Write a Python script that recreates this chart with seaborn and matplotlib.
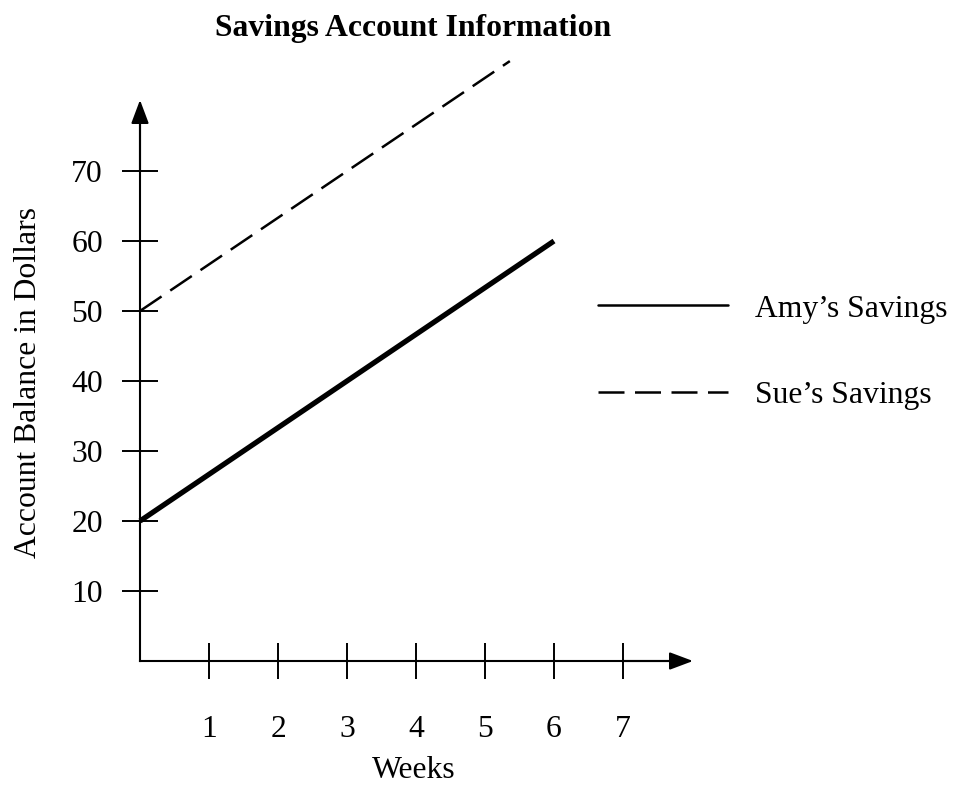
import matplotlib
matplotlib.use("Agg")
import matplotlib.pyplot as plt
import seaborn as sns
import pandas as pd
from matplotlib.lines import Line2D

# ---------------- data ----------------
title = "Savings Account Information"
x_label = "Weeks"
y_label = "Account Balance in Dollars"
series_names = ["Amy\u2019s Savings", "Sue\u2019s Savings"]
amy_weeks = [0, 6]
amy_balance = [20, 60]
sue_weeks = [0, 5.36]
sue_balance = [50, 85.7]
x_ticks = [1, 2, 3, 4, 5, 6, 7]
y_ticks = [10, 20, 30, 40, 50, 60, 70]

# ---------------- style ----------------
sns.set_theme(style="ticks")
plt.rcParams["font.family"] = ["Liberation Serif", "DejaVu Serif"]
plt.rcParams["text.color"] = "black"
plt.rcParams["axes.labelcolor"] = "black"
plt.rcParams["xtick.color"] = "black"
plt.rcParams["ytick.color"] = "black"
FS = 22.8

W, H = 959, 798
fig = plt.figure(figsize=(W / 100, H / 100), dpi=100)
ax = fig.add_axes([0, 0, 1, 1])
ax.set_facecolor("white")

ox, oy = 140, 137          # axis origin in pixels (left, bottom)
pxw, pxd = 69, 7           # pixels per week, pixels per dollar
ax.set_xlim(-ox / pxw, (W - ox) / pxw)
ax.set_ylim(-oy / pxd, (H - oy) / pxd)

df_amy = pd.DataFrame({"week": amy_weeks, "balance": amy_balance})
df_sue = pd.DataFrame({"week": sue_weeks, "balance": sue_balance})

sns.lineplot(data=df_amy, x="week", y="balance", ax=ax, color="black",
             lw=3.8, solid_capstyle="butt", legend=False)
sns.lineplot(data=df_sue, x="week", y="balance", ax=ax, color="black",
             lw=1.8, linestyle=(0, (10.4, 4.2)), dash_capstyle="butt",
             legend=False)

# axes spines through origin
for s in ["top", "right"]:
    ax.spines[s].set_visible(False)
ax.spines["left"].set_position(("data", 0))
ax.spines["bottom"].set_position(("data", 0))
ax.spines["left"].set_bounds(0, 78)
ax.spines["bottom"].set_bounds(0, 7.8)
for s in ["left", "bottom"]:
    ax.spines[s].set_linewidth(1.5)
    ax.spines[s].set_color("black")

# arrow heads
ax.annotate("", xy=(0, (H - 100 - oy) / pxd), xytext=(0, 70),
            arrowprops=dict(arrowstyle="-|>,head_length=0.72,head_width=0.27",
                            mutation_scale=20, color="black", lw=1.5,
                            shrinkA=0, shrinkB=0))
ax.annotate("", xy=((693 - ox) / pxw, 0), xytext=(7, 0),
            arrowprops=dict(arrowstyle="-|>,head_length=0.72,head_width=0.27",
                            mutation_scale=20, color="black", lw=1.5,
                            shrinkA=0, shrinkB=0))

ax.set_xticks(x_ticks)
ax.set_yticks(y_ticks)
ax.tick_params(direction="inout", length=25.9, width=1.4, colors="black",
               labelsize=FS, bottom=True, left=True)
ax.tick_params(axis="x", pad=25.9)
ax.tick_params(axis="y", pad=13.7)
ax.grid(False)

ax.set_xlabel(x_label, fontsize=FS)
ax.xaxis.set_label_coords(414 / W, 1 - 771 / H)
ax.xaxis.label.set_va("center")
ax.set_ylabel(y_label, fontsize=FS)
ax.yaxis.set_label_coords(29 / W, 1 - 382 / H)
ax.yaxis.label.set_va("center")

fig.text(413 / W, 1 - 14 / H, title, ha="center", va="top",
         fontsize=FS, fontweight="bold", color="black")

handles = [Line2D([], [], color="black", lw=1.8),
           Line2D([], [], color="black", lw=1.8, linestyle=(0, (10.4, 4.2)))]
ax.legend(handles, series_names, loc="center left",
          bbox_to_anchor=(598 / W, 1 - 352 / H), frameon=False,
          fontsize=FS, borderpad=0, borderaxespad=0,
          handlelength=4.12, handletextpad=0.85, labelspacing=1.8)

fig.savefig("out.png", dpi=100, facecolor="white")
